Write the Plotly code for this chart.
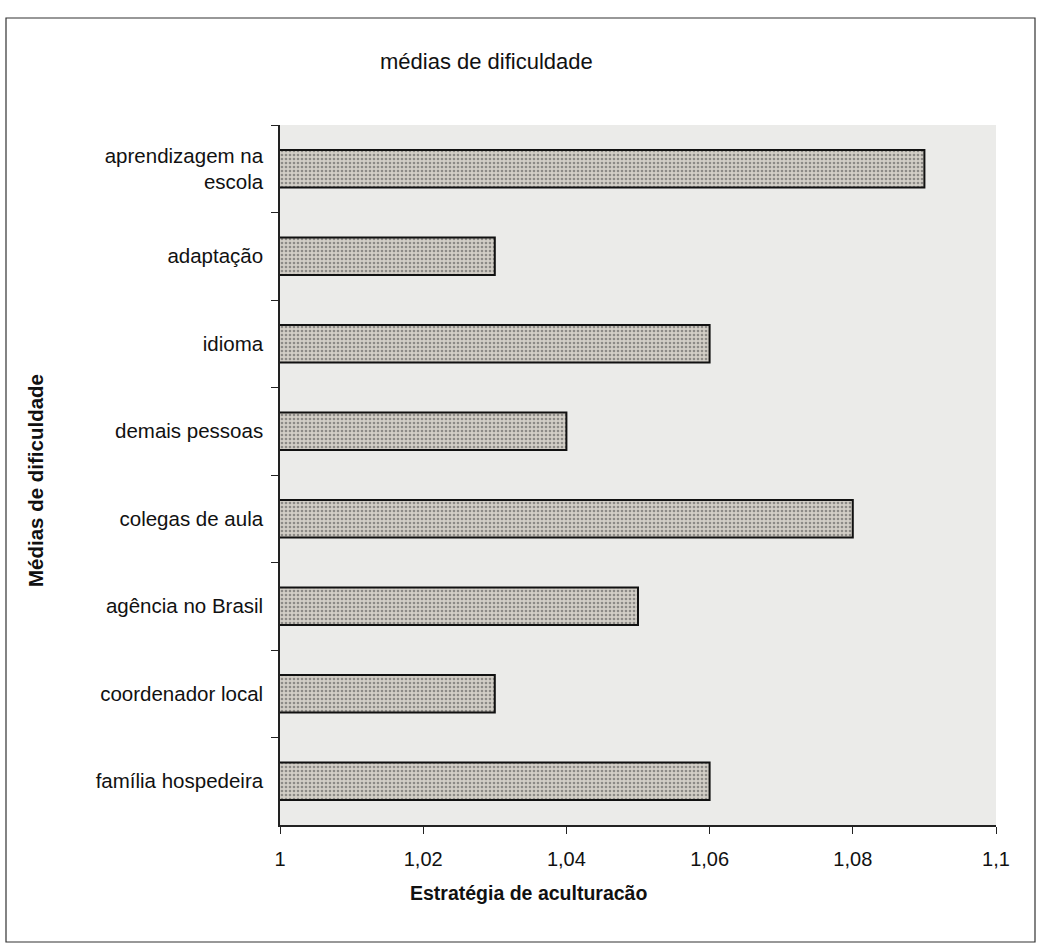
import plotly.graph_objects as go

# Categories listed top to bottom
categorias = [
    "aprendizagem na<br>escola",
    "adaptação",
    "idioma",
    "demais pessoas",
    "colegas de aula",
    "agência no Brasil",
    "coordenador local",
    "família hospedeira",
]
medias = [1.09, 1.03, 1.06, 1.04, 1.08, 1.05, 1.03, 1.06]
x_ticks = [1, 1.02, 1.04, 1.06, 1.08, 1.1]

titulo = "médias de dificuldade"
titulo_x = "Estratégia de aculturacão"
titulo_y = "Médias de dificuldade"

FONT = "Liberation Sans, Arial, sans-serif"

W, H = 1038, 943
L, R, T, B = 280, 996, 125, 825  # plot area in pixels


def px(x):
    return (x - L) / (R - L)


def py(y):
    return (B - y) / (B - T)


fig = go.Figure(
    go.Bar(
        x=medias,
        y=categorias,
        orientation="h",
        width=0.43,
        marker=dict(
            color="#cdc9c1",
            line=dict(color="#111111", width=2),
            pattern=dict(shape=".", fgcolor="#8c8a86", bgcolor="#d2cec6",
                         size=4, solidity=0.35, fillmode="replace"),
        ),
        showlegend=False,
    )
)

fig.update_layout(
    width=W,
    height=H,
    separators=", ",
    paper_bgcolor="white",
    plot_bgcolor="#ebebe9",
    margin=dict(l=L, r=W - R, t=T, b=H - B, pad=0),
    font=dict(family=FONT, size=19, color="#111111"),
    bargap=0.57,
    xaxis=dict(
        range=[1, 1.1],
        tickvals=x_ticks,
        showgrid=False,
        zeroline=False,
        showline=True,
        linecolor="#222222",
        linewidth=1.5,
        ticks="outside",
        ticklen=7,
        tickcolor="#222222",
        tickfont=dict(size=20),
        ticklabelstandoff=8,
    ),
    yaxis=dict(
        categoryorder="array",
        categoryarray=categorias,
        autorange="reversed",
        showgrid=False,
        zeroline=False,
        showline=True,
        linecolor="#222222",
        linewidth=1.5,
        ticks="outside",
        tickson="boundaries",
        ticklen=7,
        tickcolor="#222222",
        tickfont=dict(size=20.5),
        ticklabelstandoff=11,
    ),
    annotations=[
        dict(text=titulo, xref="paper", yref="paper", x=px(486), y=py(62),
             xanchor="center", yanchor="middle",
             showarrow=False, font=dict(size=22)),
        dict(text=f"<b>{titulo_x}</b>", xref="paper", yref="paper",
             x=px(528), y=py(893), xanchor="center", yanchor="middle",
             showarrow=False, font=dict(size=19.5)),
        dict(text=f"<b>{titulo_y}</b>", xref="paper", yref="paper",
             x=px(35), y=py(481), xanchor="center", yanchor="middle",
             showarrow=False, textangle=-90, font=dict(size=20.5)),
    ],
    shapes=[
        dict(type="rect", xref="paper", yref="paper",
             x0=px(6), x1=px(1035), y0=py(942), y1=py(18),
             line=dict(color="#333333", width=1.2), layer="below"),
    ],
)

fig.write_html("out.html")
